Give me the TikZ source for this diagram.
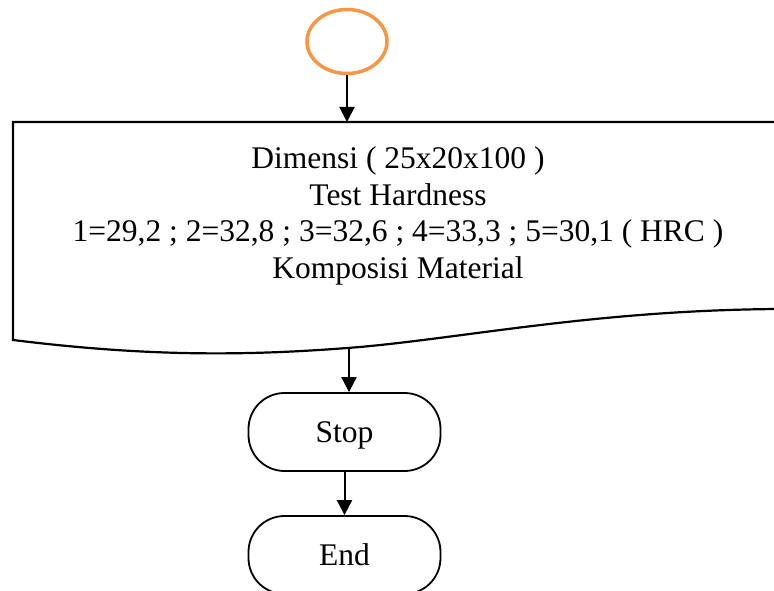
\documentclass[tikz,border=0pt]{standalone}
\usepackage{fontspec}
\setmainfont{Liberation Serif}
\usetikzlibrary{arrows.meta,shapes.geometric}
\definecolor{startorange}{RGB}{247,150,70}
\tikzset{
  terminal/.style={draw,line width=1.8pt,rectangle,rounded corners=36pt,minimum width=192pt,minimum height=78pt,inner sep=0pt,text height=21pt,text depth=0pt},
  flow/.style={line width=2pt,-{Triangle[width=15pt,length=15pt]}},
  bigtext/.style={font=\fontsize{31.5}{36.5}\selectfont}
}
\begin{document}
\begin{tikzpicture}[x=1pt,y=-1pt]
\clip (0,0) rectangle (774,591);
\node[draw=startorange,line width=3.5pt,ellipse,minimum width=80pt,minimum height=64pt] (start) at (347,41.5) {};
% document shape with wavy bottom
\draw[line width=2.2pt] (13,340) -- (13,122) -- (790,122) -- (790,309) -- (780,309)
  .. controls (600,310) and (470,337) .. (360,347)
  .. controls (250,356) and (150,357) .. (13,340) -- cycle;
\coordinate (doctop) at (345,122);
\coordinate (docbottom) at (349,347);
\node[bigtext,align=center,inner sep=0pt] (doc) at (398,216) {Dimensi ( 25x20x100 )\\Test Hardness\\1=29,2 ; 2=32,8 ; 3=32,6 ; 4=33,3 ; 5=30,1 ( HRC )\\Komposisi Material};
\node[terminal,bigtext] (stop) at (344.5,432) {Stop};
\node[terminal,bigtext] (end) at (344.5,555) {End};
\draw[flow] (start.south) -- (start.south |- doctop);
\draw[flow] (docbottom) -- (docbottom |- stop.north);
\draw[flow] (stop.south) -- (end.north);
\end{tikzpicture}
\end{document}
